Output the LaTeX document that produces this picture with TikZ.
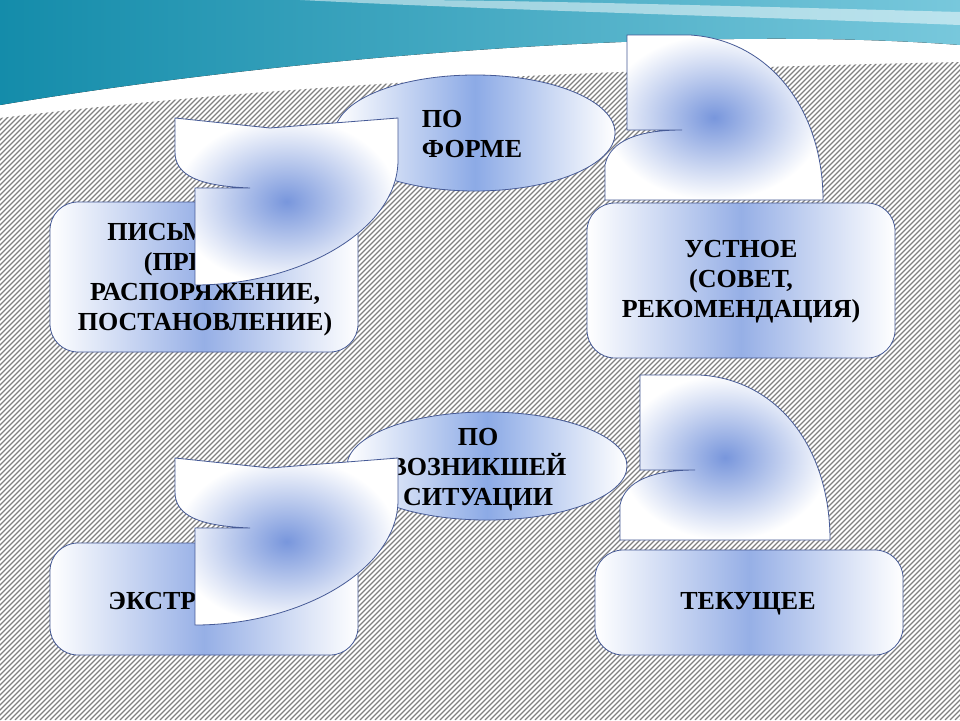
\documentclass[tikz,border=0pt]{standalone}
\usepackage{fontspec}
\setmainfont{Liberation Serif}
\begin{document}
\begin{tikzpicture}[x=1pt,y=-1pt,
  edge/.style={draw={rgb,255:red,70;green,90;blue,150},line width=0.8pt},
  boxs/.style={edge,rounded corners=28pt,left color=white,right color=white,middle color={rgb,255:red,150;green,175;blue,230}},
  ell/.style={edge,left color=white,right color=white,middle color={rgb,255:red,140;green,170;blue,230}},
  arr/.style={edge,inner color={rgb,255:red,120;green,150;blue,220},outer color=white},
  lbl/.style={font=\fontsize{26}{30}\selectfont\bfseries,align=center}]
\useasboundingbox (0,0) rectangle (960,720);
\fill[white] (0,0) rectangle (960,720);
\begin{scope}
\clip (0,118) .. controls (300,82) and (600,70) .. (960,62) -- (960,720) -- (0,720) -- cycle;
\foreach \i in {-720,-715,...,960} \draw[gray,line width=1.1pt] (\i,720) -- (\i+720,0);
\end{scope}
\fill[left color={rgb,255:red,20;green,140;blue,170},right color={rgb,255:red,120;green,200;blue,220}]
 (0,0) -- (960,0) -- (960,45) .. controls (700,25) and (300,55) .. (0,105) -- cycle;
\fill[white,opacity=0.5] (300,0) .. controls (500,10) and (700,15) .. (960,25) -- (960,12) .. controls (700,5) and (500,0) .. (400,0) -- cycle;
% boxes
\draw[boxs] (50,202) rectangle (358,352);
\draw[boxs] (587,203) rectangle (895,358);
\draw[boxs] (50,543) rectangle (358,655);
\draw[boxs] (595,550) rectangle (903,655);
\node[lbl] (t1) at (205,280) {ПИСЬМЕННОЕ\\(ПРИКАЗ,\\РАСПОРЯЖЕНИЕ,\\ПОСТАНОВЛЕНИЕ)};
\node[lbl] (t2) at (741,282) {УСТНОЕ\\(СОВЕТ,\\РЕКОМЕНДАЦИЯ)};
\node[lbl] (t3) at (200,601) {ЭКСТРЕННОЕ};
\node[lbl] (t4) at (748,604) {ТЕКУЩЕЕ};
% ellipses
\draw[ell] (475,133) ellipse [x radius=140,y radius=58];
\node[lbl,align=left] (e1) at (472,134) {ПО\\ФОРМЕ};
\draw[ell] (487,466) ellipse [x radius=140,y radius=54];
\node[lbl] (e2) at (478,470) {ПО\\ВОЗНИКШЕЙ\\СИТУАЦИИ};
% curved arrows
\foreach \dy in {0,340} {
\draw[arr,shift={(0,\dy)}] (175,118) -- (270,128) -- (398,118) -- (398,160)
  .. controls (398,230) and (300,285) .. (195,285) -- (195,188) -- (250,188)
  .. controls (200,186) and (175,176) .. (175,152) -- cycle;
}
\draw[arr] (627,35) -- (690,35) .. controls (770,40) and (823,110) .. (823,200)
  -- (605,200) -- (605,165) .. controls (610,140) and (640,130) .. (682,130) -- (627,130) -- cycle;
\draw[arr] (640,375) -- (700,375) .. controls (780,380) and (830,450) .. (830,540)
  -- (620,540) -- (620,505) .. controls (625,480) and (655,470) .. (695,470) -- (640,470) -- cycle;
\end{tikzpicture}
\end{document}
